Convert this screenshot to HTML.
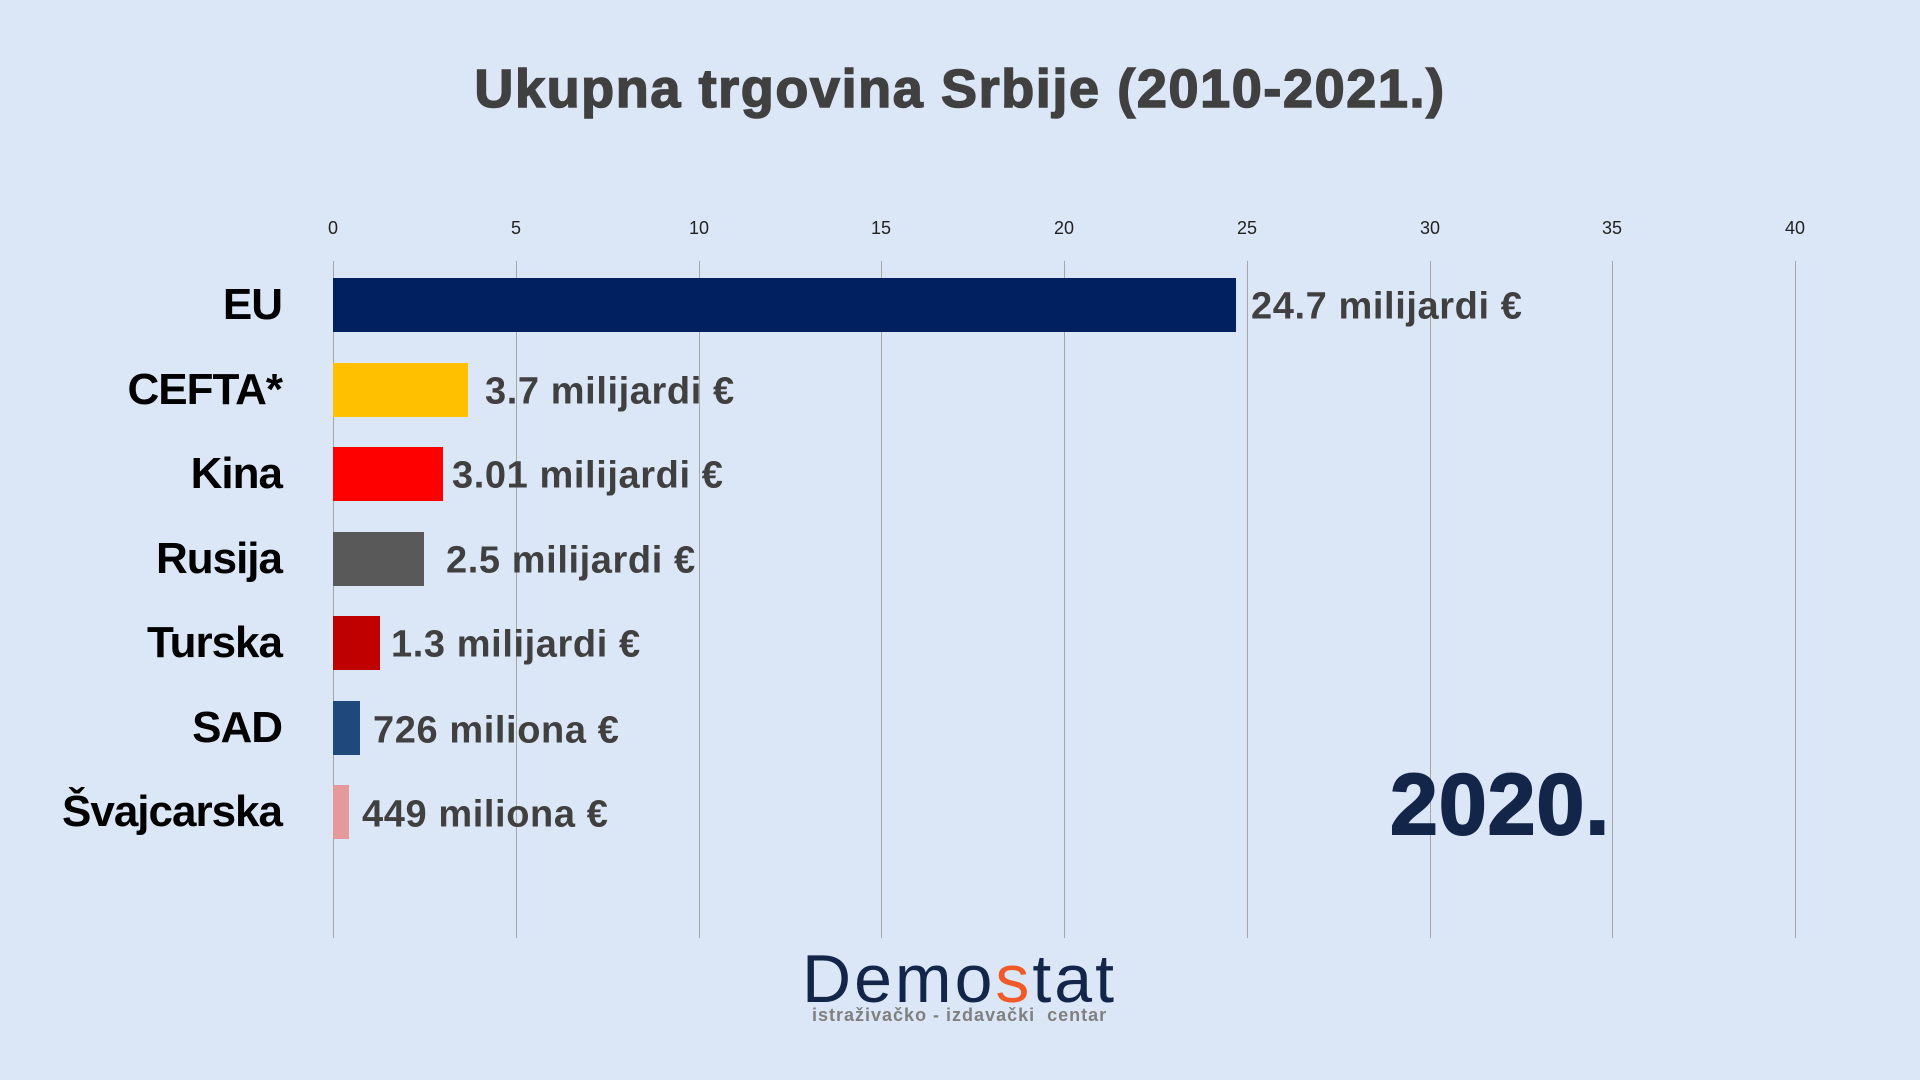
<!DOCTYPE html>
<html><head><meta charset="utf-8"><style>
body{margin:0;width:1920px;height:1080px;background:#dbe7f6;position:relative;overflow:hidden;font-family:"Liberation Sans",sans-serif}
.a{position:absolute}
.t{color:#222;font-size:18px;transform:translateX(-50%);top:218px}
.g{top:261px;height:677px;width:1px;background:#a6a6a6}
.c{right:1638px;font-weight:bold;font-size:44px;color:#000;transform:translateY(-50%);letter-spacing:-1px;white-space:nowrap}
.v{font-weight:bold;font-size:38px;color:#404040;transform:translateY(-50%);letter-spacing:0.6px;white-space:nowrap}
.b{left:333px;height:54px;transform:translateY(-50%)}
</style></head><body>
<div class="a" style="left:0;width:1920px;top:58px;text-align:center;font-weight:bold;font-size:54px;color:#404040;letter-spacing:1.6px;-webkit-text-stroke:1.5px #404040">Ukupna trgovina Srbije (2010-2021.)</div>
<div class="a g" style="left:333px"></div><div class="a g" style="left:516px"></div><div class="a g" style="left:699px"></div><div class="a g" style="left:881px"></div><div class="a g" style="left:1064px"></div><div class="a g" style="left:1247px"></div><div class="a g" style="left:1430px"></div><div class="a g" style="left:1612px"></div><div class="a g" style="left:1795px"></div>
<div class="a t" style="left:333px">0</div><div class="a t" style="left:516px">5</div><div class="a t" style="left:699px">10</div><div class="a t" style="left:881px">15</div><div class="a t" style="left:1064px">20</div><div class="a t" style="left:1247px">25</div><div class="a t" style="left:1430px">30</div><div class="a t" style="left:1612px">35</div><div class="a t" style="left:1795px">40</div>

<div class="a b" style="top:305px;width:903px;background:#002060"></div>
<div class="a b" style="top:390px;width:135px;background:#ffc000"></div>
<div class="a b" style="top:474px;width:110px;background:#ff0000"></div>
<div class="a b" style="top:559px;width:91px;background:#595959"></div>
<div class="a b" style="top:643px;width:47px;background:#c00000"></div>
<div class="a b" style="top:728px;width:27px;background:#1f497d"></div>
<div class="a b" style="top:812px;width:16px;background:#e6999a"></div>

<div class="a c" style="top:305px">EU</div>
<div class="a c" style="top:390px">CEFTA*</div>
<div class="a c" style="top:474px">Kina</div>
<div class="a c" style="top:559px">Rusija</div>
<div class="a c" style="top:643px">Turska</div>
<div class="a c" style="top:728px">SAD</div>
<div class="a c" style="top:812px">Švajcarska</div>

<div class="a v" style="left:1251px;top:307px">24.7 milijardi €</div>
<div class="a v" style="left:485px;top:392px">3.7 milijardi €</div>
<div class="a v" style="left:452px;top:476px">3.01 milijardi €</div>
<div class="a v" style="left:446px;top:561px">2.5 milijardi €</div>
<div class="a v" style="left:391px;top:645px">1.3 milijardi €</div>
<div class="a v" style="left:373px;top:731px">726 miliona €</div>
<div class="a v" style="left:362px;top:815px">449 miliona €</div>

<div class="a" style="left:1390px;top:756px;font-weight:bold;font-size:86px;color:#13264a;letter-spacing:1px;-webkit-text-stroke:2px #13264a">2020.</div>
<div class="a" style="left:802px;top:940px;font-size:68px;color:#13264a;letter-spacing:3px">Demo<span style="color:#f05a28">s</span>tat</div>
<div class="a" style="left:812px;top:1005px;font-size:18px;font-weight:bold;color:#808080;letter-spacing:1px;white-space:pre">istraživačko - izdavački  centar</div>
</body></html>
